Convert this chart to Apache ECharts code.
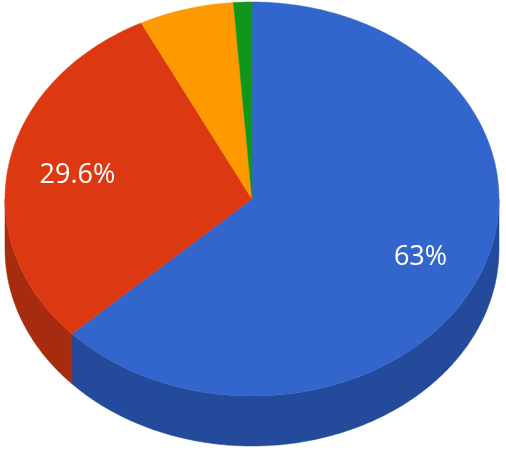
<!DOCTYPE html>
<html>
<head>
<meta charset="utf-8">
<script src="https://cdn.jsdelivr.net/npm/echarts@6/dist/echarts.min.js"></script>
</head>
<body style="margin: 0">
<div id="container" style="width: 506px; height: 450px"></div>
<script type="text/javascript">
var categories = ['Slice A', 'Slice B', 'Slice C', 'Slice D'];
var values = [63, 29.6, 6.2, 1.2];
var topColors = ['#3366cc', '#dc3912', '#ff9900', '#109618'];
var sideColors = ['#234a9b', '#a72b0e', '#c27400', '#0c7212'];

var total = values.reduce(function (s, v) { return s + v; }, 0);
var starts = [];
var acc = 0;
for (var i = 0; i < values.length; i++) {
    starts.push(acc);
    acc += values[i];
}

// ellipse of the top face + thickness of the disc
var cx = 252, cy = 199, rx = 247, ry = 197, depth = 50;

function pt(deg, dy) {
    var t = deg * Math.PI / 180;
    return [cx + rx * Math.sin(t), cy - ry * Math.cos(t) + (dy || 0)];
}
function arc(from, to, dy) {
    var pts = [];
    var n = Math.max(2, Math.ceil(Math.abs(to - from) / 0.5));
    for (var k = 0; k <= n; k++) {
        pts.push(pt(from + (to - from) * k / n, dy));
    }
    return pts;
}
// degrees, clockwise from 12 o'clock
function angles(idx, val) {
    var a0 = starts[idx] / total * 360;
    return [a0, a0 + val / total * 360];
}

function renderSide(params, api) {
    var idx = params.dataIndex;
    var a = angles(idx, api.value(1));
    var lo = Math.max(a[0], 90), hi = Math.min(a[1], 270);
    if (hi <= lo) return;
    var pts = arc(lo, hi, 0).concat(arc(hi, lo, depth));
    return {
        type: 'polygon',
        shape: { points: pts },
        style: { fill: sideColors[idx], stroke: sideColors[idx], lineWidth: 0.5 }
    };
}

function renderTop(params, api) {
    var idx = params.dataIndex;
    var v = api.value(1);
    var a = angles(idx, v);
    var pts = [[cx, cy]].concat(arc(a[0], a[1], 0));
    var pct = v / total * 100;
    var children = [{
        type: 'polygon',
        shape: { points: pts },
        style: { fill: topColors[idx], stroke: topColors[idx], lineWidth: 0.5 }
    }];
    if (pct >= 10) {
        var mid = (a[0] + a[1]) / 2 * Math.PI / 180;
        children.push({
            type: 'text',
            x: cx + 3 + 0.73 * rx * Math.sin(mid),
            y: cy + 1.5 - 0.72 * ry * Math.cos(mid),
            z2: 10,
            style: {
                text: +pct.toFixed(1) + '%',
                fill: '#ffffff',
                font: '27px "Open Sans"',
                align: 'center',
                verticalAlign: 'middle'
            }
        });
    }
    return { type: 'group', children: children };
}

var seriesData = categories.map(function (c, i) {
    return { name: c, value: [i, values[i]] };
});

var myChart = echarts.init(document.getElementById('container'));
var option = {
    animation: false,
    backgroundColor: '#ffffff',
    series: [{
        type: 'custom',
        name: 'side',
        coordinateSystem: 'none',
        renderItem: renderSide,
        data: seriesData,
        z: 1
    }, {
        type: 'custom',
        name: 'top',
        coordinateSystem: 'none',
        renderItem: renderTop,
        data: seriesData,
        z: 2
    }]
};
myChart.setOption(option);
</script>
</body>
</html>
